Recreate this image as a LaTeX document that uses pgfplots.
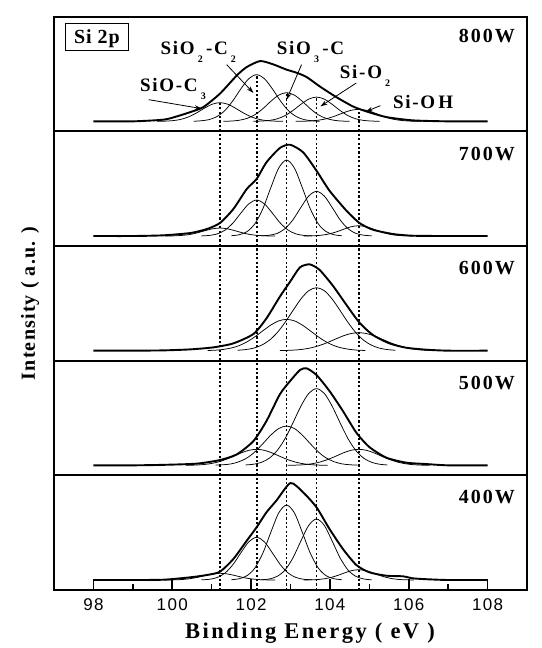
\documentclass[border=0pt]{standalone}
\usepackage{fontspec}
\setmainfont{Liberation Serif}
\newfontfamily\arial{Liberation Sans}
\usepackage{pgfplots}
\pgfplotsset{compat=1.18}
\usetikzlibrary{arrows.meta}
\newcommand{\lbl}{\fontsize{19bp}{22bp}\selectfont\bfseries\addfontfeatures{LetterSpace=9}}
\newcommand{\wlbl}{\fontsize{20bp}{24bp}\selectfont\bfseries\addfontfeatures{LetterSpace=10}}
\newcommand{\sub}[1]{\,\raisebox{-8bp}{\fontsize{10bp}{12bp}\selectfont #1}\,}
\pgfplotsset{
  panel/.style={scale only axis, width=473bp, height=114.66bp, xmin=97, xmax=109, ymin=0, ymax=114.66,
    axis line style={line width=2bp}, xtick=\empty, ytick=\empty, anchor=south west},
  comp/.style={black, line width=0.75bp, smooth, tension=0.5},
  env/.style={black, line width=1.9bp, smooth, tension=0.4},
  dot/.style={black, line width=1.8bp, dash pattern=on 2.2bp off 2.2bp},
}
\begin{document}
\begin{tikzpicture}
% ---------------- 400W ----------------
\begin{axis}[panel, at={(0,0)},
  xtick={98,100,...,108}, minor xtick={99,101,...,107}, xtick pos=left,
  major tick length=10.7bp, minor tick length=6bp,
  every tick/.style={black, line width=1.6bp},
  /pgf/number format/assume math mode=true,
  xticklabel style={font=\arial\fontsize{17bp}{20bp}\selectfont\addfontfeatures{LetterSpace=8}, inner sep=0pt, yshift=-8bp}]
\addplot[comp] coordinates {(99.81,10.0)(100.01,10.1)(100.21,10.4)(100.41,11.1)(100.61,12.4)(100.81,14.3)(101.01,16.0)(101.21,16.7)(101.41,16.0)(101.61,14.3)(101.81,12.4)(102.01,11.1)(102.21,10.4)(102.41,10.1)(102.61,10.0)};
\addplot[comp] coordinates {(100.74,10.2)(100.94,10.7)(101.14,12.5)(101.34,17.0)(101.54,25.4)(101.74,37.1)(101.94,48.1)(102.14,52.7)(102.34,48.1)(102.54,37.1)(102.74,25.4)(102.94,17.0)(103.14,12.5)(103.34,10.7)(103.54,10.2)};
\addplot[comp] coordinates {(101.50,10.3)(101.70,11.3)(101.90,14.4)(102.10,22.2)(102.30,37.0)(102.50,57.6)(102.70,77.0)(102.90,85.0)(103.10,77.0)(103.30,57.6)(103.50,37.0)(103.70,22.2)(103.90,14.4)(104.10,11.3)(104.30,10.3)};
\addplot[comp] coordinates {(102.26,10.2)(102.46,11.0)(102.66,13.6)(102.86,19.9)(103.06,32.0)(103.26,48.7)(103.46,64.5)(103.66,71.0)(103.86,64.5)(104.06,48.7)(104.26,32.0)(104.46,19.9)(104.66,13.6)(104.86,11.0)(105.06,10.2)};
\addplot[comp] coordinates {(103.33,10.0)(103.53,10.2)(103.73,10.6)(103.93,11.7)(104.13,13.7)(104.33,16.5)(104.53,19.2)(104.73,20.3)(104.93,19.2)(105.13,16.5)(105.33,13.7)(105.53,11.7)(105.73,10.6)(105.93,10.2)(106.13,10.0)};
\addplot[env] coordinates {(98,10)(99,10)(99.78,10.3)(100.46,12.7)(100.88,15)(101.21,18.3)(101.55,31)(101.89,49.3)(102.14,62.7)(102.39,77.7)(102.64,89.3)(103.0,107)(103.32,97.7)(103.66,82.7)(103.99,61)(104.33,41)(104.67,25)(105.0,17.7)(105.43,14.3)(105.85,13.7)(106.1,11.7)(106.44,10.8)(107,10)(108,10)};
\addplot[dot] coordinates {(101.21,0)(101.21,114.66)};
\addplot[dot] coordinates {(102.14,0)(102.14,114.66)};
\addplot[dot] coordinates {(102.90,0)(102.90,114.66)};
\addplot[dot] coordinates {(103.66,0)(103.66,114.66)};
\addplot[dot] coordinates {(104.73,0)(104.73,114.66)};
\node[anchor=east, inner sep=0pt] at (axis cs:108.7,92.5) {\wlbl 400W};
\end{axis}
% ---------------- 500W ----------------
\begin{axis}[panel, at={(0,114.66bp)}]
\addplot[comp] coordinates {(100.34,10.1)(100.54,10.2)(100.74,10.6)(100.94,11.5)(101.14,13.1)(101.34,15.6)(101.54,18.8)(101.74,22.3)(101.94,25.0)(102.14,26.0)(102.34,25.0)(102.54,22.3)(102.74,18.8)(102.94,15.6)(103.14,13.1)(103.34,11.5)(103.54,10.6)(103.74,10.2)(103.94,10.1)};
\addplot[comp] coordinates {(101.10,10.2)(101.30,10.6)(101.50,11.5)(101.70,13.7)(101.90,17.5)(102.10,23.6)(102.30,31.7)(102.50,40.2)(102.70,46.8)(102.90,49.3)(103.10,46.8)(103.30,40.2)(103.50,31.7)(103.70,23.6)(103.90,17.5)(104.10,13.7)(104.30,11.5)(104.50,10.6)(104.70,10.2)};
\addplot[comp] coordinates {(101.86,10.4)(102.06,11.1)(102.26,13.0)(102.46,17.1)(102.66,24.7)(102.86,36.6)(103.06,52.3)(103.26,68.9)(103.46,81.8)(103.66,86.7)(103.86,81.8)(104.06,68.9)(104.26,52.3)(104.46,36.6)(104.66,24.7)(104.86,17.1)(105.06,13.0)(105.26,11.1)(105.46,10.4)};
\addplot[comp] coordinates {(102.93,10.1)(103.13,10.2)(103.33,10.6)(103.53,11.5)(103.73,13.1)(103.93,15.6)(104.13,18.8)(104.33,22.3)(104.53,25.0)(104.73,26.0)(104.93,25.0)(105.13,22.3)(105.33,18.8)(105.53,15.6)(105.73,13.1)(105.93,11.5)(106.13,10.6)(106.33,10.2)(106.53,10.1)};
\addplot[env] coordinates {(98,10)(99,10)(99.78,10.5)(100.62,11.7)(101.21,15.3)(101.64,21)(102.06,34.3)(102.39,54.3)(102.73,81)(102.99,94.3)(103.24,105.3)(103.41,107)(103.66,100.3)(103.99,84.3)(104.33,64.3)(104.67,42.7)(105.0,28.3)(105.43,17.7)(105.93,12.7)(106.44,11.3)(107,10)(108,10)};
\addplot[dot] coordinates {(101.21,0)(101.21,114.66)};
\addplot[dot] coordinates {(102.14,0)(102.14,114.66)};
\addplot[dot] coordinates {(102.90,0)(102.90,114.66)};
\addplot[dot] coordinates {(103.66,0)(103.66,114.66)};
\addplot[dot] coordinates {(104.73,0)(104.73,114.66)};
\node[anchor=east, inner sep=0pt] at (axis cs:108.7,92.5) {\wlbl 500W};
\end{axis}
% ---------------- 600W ----------------
\begin{axis}[panel, at={(0,229.32bp)}]
\addplot[comp] coordinates {(100.90,10.2)(101.10,10.5)(101.30,11.3)(101.50,12.7)(101.70,15.1)(101.90,18.9)(102.10,24.0)(102.30,29.9)(102.50,35.6)(102.70,39.8)(102.90,41.3)(103.10,39.8)(103.30,35.6)(103.50,29.9)(103.70,24.0)(103.90,18.9)(104.10,15.1)(104.30,12.7)(104.50,11.3)(104.70,10.5)(104.90,10.2)};
\addplot[comp] coordinates {(101.66,10.4)(101.86,11.1)(102.06,12.5)(102.26,15.4)(102.46,20.3)(102.66,27.9)(102.86,38.2)(103.06,50.0)(103.26,61.5)(103.46,69.9)(103.66,73.0)(103.86,69.9)(104.06,61.5)(104.26,50.0)(104.46,38.2)(104.66,27.9)(104.86,20.3)(105.06,15.4)(105.26,12.5)(105.46,11.1)(105.66,10.4)};
\addplot[comp] coordinates {(102.73,10.1)(102.93,10.3)(103.13,10.7)(103.33,11.5)(103.53,12.9)(103.73,15.1)(103.93,18.0)(104.13,21.4)(104.33,24.7)(104.53,27.1)(104.73,28.0)(104.93,27.1)(105.13,24.7)(105.33,21.4)(105.53,18.0)(105.73,15.1)(105.93,12.9)(106.13,11.5)(106.33,10.7)(106.53,10.3)(106.73,10.1)};
\addplot[env] coordinates {(98,10)(99,10)(99.78,10.3)(100.46,11.3)(101.04,13.3)(101.55,17.3)(102.06,26.7)(102.39,42.3)(102.73,64)(102.99,79)(103.24,93.3)(103.49,96.3)(103.74,90.7)(104.08,74.7)(104.42,55.7)(104.75,38)(105.09,25.7)(105.51,17.3)(105.93,13)(106.44,11)(107,10)(108,10)};
\addplot[dot] coordinates {(101.21,0)(101.21,114.66)};
\addplot[dot] coordinates {(102.14,0)(102.14,114.66)};
\addplot[dot] coordinates {(102.90,0)(102.90,114.66)};
\addplot[dot] coordinates {(103.66,0)(103.66,114.66)};
\addplot[dot] coordinates {(104.73,0)(104.73,114.66)};
\node[anchor=east, inner sep=0pt] at (axis cs:108.7,92.5) {\wlbl 600W};
\end{axis}
% ---------------- 700W ----------------
\begin{axis}[panel, at={(0,343.98bp)}]
\addplot[comp] coordinates {(99.81,10.0)(100.01,10.1)(100.21,10.5)(100.41,11.3)(100.61,12.9)(100.81,15.1)(101.01,17.1)(101.21,18.0)(101.41,17.1)(101.61,15.1)(101.81,12.9)(102.01,11.3)(102.21,10.5)(102.41,10.1)(102.61,10.0)};
\addplot[comp] coordinates {(100.74,10.1)(100.94,10.6)(101.14,12.1)(101.34,15.9)(101.54,23.0)(101.74,32.9)(101.94,42.1)(102.14,46.0)(102.34,42.1)(102.54,32.9)(102.74,23.0)(102.94,15.9)(103.14,12.1)(103.34,10.6)(103.54,10.1)};
\addplot[comp] coordinates {(101.50,10.3)(101.70,11.3)(101.90,14.5)(102.10,22.4)(102.30,37.4)(102.50,58.3)(102.70,77.9)(102.90,86.0)(103.10,77.9)(103.30,58.3)(103.50,37.4)(103.70,22.4)(103.90,14.5)(104.10,11.3)(104.30,10.3)};
\addplot[comp] coordinates {(102.26,10.2)(102.46,10.8)(102.66,12.6)(102.86,17.3)(103.06,26.1)(103.26,38.4)(103.46,49.9)(103.66,54.7)(103.86,49.9)(104.06,38.4)(104.26,26.1)(104.46,17.3)(104.66,12.6)(104.86,10.8)(105.06,10.2)};
\addplot[comp] coordinates {(103.33,10.0)(103.53,10.2)(103.73,10.6)(103.93,11.7)(104.13,13.7)(104.33,16.5)(104.53,19.2)(104.73,20.3)(104.93,19.2)(105.13,16.5)(105.33,13.7)(105.53,11.7)(105.73,10.6)(105.93,10.2)(106.13,10.0)};
\addplot[env] coordinates {(98,10)(99,10)(99.78,10.7)(100.46,13)(100.88,17)(101.21,23)(101.55,37)(101.89,57)(102.14,67)(102.39,83.7)(102.73,98)(102.99,101.3)(103.32,93.7)(103.66,75.3)(103.99,55.3)(104.42,35.3)(104.75,23)(105.09,16.3)(105.6,12)(106.1,10.3)(107,10)(108,10)};
\addplot[dot] coordinates {(101.21,0)(101.21,114.66)};
\addplot[dot] coordinates {(102.14,0)(102.14,114.66)};
\addplot[dot] coordinates {(102.90,0)(102.90,114.66)};
\addplot[dot] coordinates {(103.66,0)(103.66,114.66)};
\addplot[dot] coordinates {(104.73,0)(104.73,114.66)};
\node[anchor=east, inner sep=0pt] at (axis cs:108.7,92.5) {\wlbl 700W};
\end{axis}
% ---------------- 800W ----------------
\begin{axis}[panel, at={(0,458.64bp)}]
\addplot[comp] coordinates {(99.61,10.1)(99.81,10.2)(100.01,10.7)(100.21,11.9)(100.41,14.4)(100.61,18.3)(100.81,23.0)(101.01,27.1)(101.21,28.7)(101.41,27.1)(101.61,23.0)(101.81,18.3)(102.01,14.4)(102.21,11.9)(102.41,10.7)(102.61,10.2)(102.81,10.1)};
\addplot[comp] coordinates {(100.54,10.1)(100.74,10.6)(100.94,11.8)(101.14,14.9)(101.34,21.0)(101.54,30.7)(101.74,42.5)(101.94,52.6)(102.14,56.7)(102.34,52.6)(102.54,42.5)(102.74,30.7)(102.94,21.0)(103.14,14.9)(103.34,11.8)(103.54,10.6)(103.74,10.1)};
\addplot[comp] coordinates {(101.30,10.1)(101.50,10.3)(101.70,11.1)(101.90,13.0)(102.10,16.7)(102.30,22.7)(102.50,30.0)(102.70,36.2)(102.90,38.7)(103.10,36.2)(103.30,30.0)(103.50,22.7)(103.70,16.7)(103.90,13.0)(104.10,11.1)(104.30,10.3)(104.50,10.1)};
\addplot[comp] coordinates {(102.06,10.1)(102.26,10.3)(102.46,10.9)(102.66,12.5)(102.86,15.7)(103.06,20.8)(103.26,26.9)(103.46,32.2)(103.66,34.3)(103.86,32.2)(104.06,26.9)(104.26,20.8)(104.46,15.7)(104.66,12.5)(104.86,10.9)(105.06,10.3)(105.26,10.1)};
\addplot[comp] coordinates {(103.13,10.0)(103.33,10.1)(103.53,10.5)(103.73,11.3)(103.93,12.8)(104.13,15.3)(104.33,18.4)(104.53,21.0)(104.73,22.0)(104.93,21.0)(105.13,18.4)(105.33,15.3)(105.53,12.8)(105.73,11.3)(105.93,10.5)(106.13,10.1)(106.33,10.0)};
\addplot[env] coordinates {(98,10)(99,10)(99.78,11.7)(100.12,15)(100.46,19.3)(100.79,24.3)(101.21,37.7)(101.64,56)(101.89,64.3)(102.23,70.3)(102.56,67)(102.9,61.7)(103.15,58.7)(103.41,54.3)(103.74,45)(104.16,34.3)(104.58,25)(104.92,20)(105.43,14.3)(106.1,11)(107,10)(108,10)};
\addplot[dot] coordinates {(101.21,0)(101.21,28.7)};
\addplot[dot] coordinates {(102.14,0)(102.14,56.7)};
\addplot[dot] coordinates {(102.90,0)(102.90,38.7)};
\addplot[dot] coordinates {(103.66,0)(103.66,34.3)};
\addplot[dot] coordinates {(104.73,0)(104.73,22.0)};
\node[anchor=east, inner sep=0pt] at (axis cs:108.7,95) {\wlbl 800W};
\node[draw, line width=1bp, minimum width=62.7bp, minimum height=26.7bp, inner sep=0pt, text height=13bp, text depth=0pt] at (axis cs:98.09,94.4) {\fontsize{20bp}{24bp}\selectfont\bfseries\addfontfeatures{LetterSpace=5}Si 2p};
\node[anchor=base west, inner sep=0pt] at (axis cs:99.18,39.4) {\lbl SiO-C\sub{3}};
\node[anchor=base west, inner sep=0pt] at (axis cs:99.70,77.2) {\lbl SiO\sub{2}-C\sub{2}};
\node[anchor=base west, inner sep=0pt] at (axis cs:102.65,77.2) {\lbl SiO\sub{3}-C};
\node[anchor=base west, inner sep=0pt] at (axis cs:104.25,52.4) {\lbl Si-O\sub{2}};
\node[anchor=base west, inner sep=0pt] at (axis cs:105.60,23.0) {\lbl Si-O\,H};
\draw[line width=0.8bp, -{Stealth[length=7bp,width=4.5bp]}] (axis cs:99.40,31.7) -- (axis cs:100.75,22.7);
\draw[line width=0.8bp, -{Stealth[length=7bp,width=4.5bp]}] (axis cs:101.38,66.7) -- (axis cs:102.06,38.4);
\draw[line width=0.8bp, -{Stealth[length=7bp,width=4.5bp]}] (axis cs:103.28,66.7) -- (axis cs:102.90,31.7);
\draw[line width=0.8bp, -{Stealth[length=7bp,width=4.5bp]}] (axis cs:104.67,48.4) -- (axis cs:103.76,25);
\draw[line width=0.8bp, -{Stealth[length=7bp,width=4.5bp]}] (axis cs:105.28,25.7) -- (axis cs:104.91,19.7);
\end{axis}
% axis labels
\node[anchor=base west, inner sep=0pt] at (131bp,-48.7bp) {\fontsize{22.5bp}{26bp}\selectfont\bfseries\addfontfeatures{LetterSpace=11}Binding Energy ( eV )};
\node[rotate=90, inner sep=0pt] at (-24bp,286.7bp) {\fontsize{20bp}{24bp}\selectfont\bfseries\addfontfeatures{LetterSpace=6}Intensity ( a.u. )};
\pgfresetboundingbox
\path (-54bp,-58bp) rectangle (488bp,590bp);
\end{tikzpicture}
\end{document}
